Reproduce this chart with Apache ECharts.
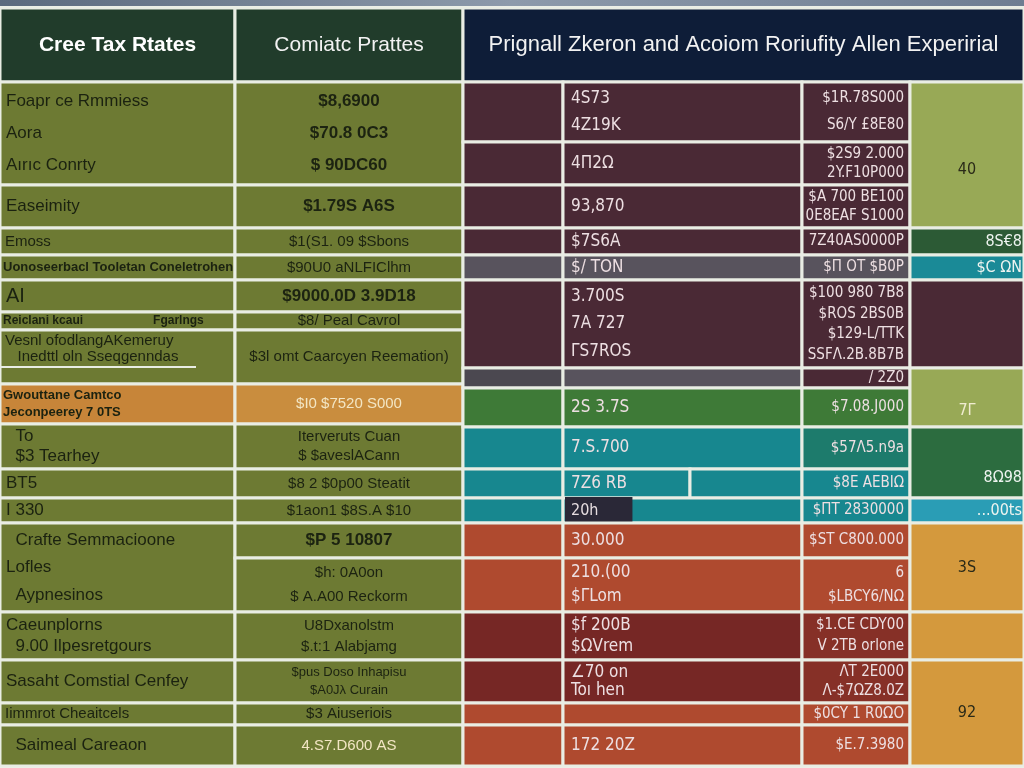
<!DOCTYPE html>
<html><head><meta charset="utf-8">
<script src="https://cdn.jsdelivr.net/npm/echarts@6/dist/echarts.min.js"></script>
<style>html,body{margin:0;padding:0;background:#fff}#c{width:1024px;height:768px}</style>
</head><body><div id="c"></div>
<script>
// ---------- DATA (texts) ----------
const headers = ['Cree Tax Rtates', 'Comiatc Prattes', 'Prignall Zkeron and Acoiom Roriufity Allen Experirial'];

const labelsA = [
  ['Foapr ce Rmmiess', 'Aora', 'Aırıc Conrty'],
  ['Easeimity'],
  ['Emoss'],
  ['Uonoseerbacl Tooletan Coneletrohen'],
  ['AI'],
  ['Reiclani kcaui                     Fgarlngs'],
  ['Vesnl ofodlangAKemeruy', '   Inedttl oln Sseqgenndas', ''],
  ['Gwouttane Camtco', 'Jeconpeerey 7 0TS'],
  ['  To', '  $3 Tearhey'],
  ['BT5'],
  ['I 330'],
  ['  Crafte Semmacioone', 'Lofles', '  Aypnesinos'],
  ['Caeunplorns', '  9.00 Ilpesretgours'],
  ['Sasaht Comstial Cenfey'],
  ['Iimmrot Cheaitcels'],
  ['  Saimeal Careaon']
];

const valuesB = [
  ['$8,6900', '$70.8 0C3', '$ 90DC60'],
  ['$1.79S A6S'],
  ['$1(S1. 09 $Sbons'],
  ['$90U0 aNLFIClhm'],
  ['$9000.0D 3.9D18'],
  ['$8/ Peal Cavrol'],
  ['$3l omt Caarcyen Reemation)'],
  ['$I0 $7520 S000'],
  ['Iterveruts Cuan', '$ $aveslACann'],
  ['$8 2 $0p00 Steatit'],
  ['$1aon1 $8S.A $10'],
  ['$P 5 10807'],
  ['$h: 0A0on', '$ A.A00 Reckorm'],
  ['U8Dxanolstm', '$.t:1 Alabjamg'],
  ['$pus Doso Inhapisu', '$A0Jλ Curain'],
  ['$3 Aiuseriois'],
  ['4.S7.D600 AS']
];

const valuesC = [
  ['4S73', '4Z19K'], ['4Π2Ω'], ['93,870'], ['$7S6A'], ['$/ TON'],
  ['3.700S', '7A 727', 'ΓS7ROS'], [], ['2S 3.7S'], ['7.S.700'], ['7Z6 RB'],
  ['20h'], ['30.000'], ['210.(00', '$ΓLom'], ['$f 200B', '$ΩVrem'],
  ['∠70 on', 'Toı hen'], [], ['172 20Z']
];

const valuesD = [
  ['$1R.78S000', 'S6/Y £8E80'], ['$2S9 2.000', '2Y.F10P000'], ['$A 700 BE100', '0E8EAF S1000'],
  ['7Z40AS0000P'], ['$Π OT $B0P'], ['$100 980 7B8', '$ROS 2BS0B', '$129-L/TTK', 'SSFΛ.2B.8B7B'],
  ['/ 2Z0'], ['$7.08.J000'], ['$57Λ5.n9a'], ['$8E AEBIΩ'], ['$ΠT 2830000'],
  ['$ST C800.000'], ['6', '$LBCY6/ΝΩ'], ['$1.CE CDY00', 'V 2TB orlone'],
  ['ΛT 2E000', 'Λ-$7ΩZ8.0Z'], ['$0CY 1 R0ΩO'], ['$E.7.3980']
];

const valuesE = [['', '40'], ['8S€8'], ['$C ΩN'], [], ['', '7Γ'], ['', '8Ω98'], ['...00ts'], ['3S'], [], ['92']];

// ---------- LAYOUT (table scale) ----------
const colEdges = [0, 235, 463, 563, 690, 802, 910, 1024];
const rowEdges = [8, 82, 142, 185, 228, 255, 280, 312, 330, 368, 384, 388, 424, 427, 469, 498, 523, 558, 612, 660, 703, 725, 766];

const rowsA = [[1,3],[3,4],[4,5],[5,6],[6,7],[7,8],[8,10],[10,12],[12,14],[14,15],[15,16],[16,18],[18,19],[19,20],[20,21],[21,22]];
const fillA = ['olive','olive','olive','olive','olive','olive','olive','orangeA','olive','olive','olive','olive','olive','olive','olive','olive'];
const styleA = ['lbl','lbl','lblM','lblS','lblL','lblXS','lblM','lblS','lbl','lbl','lbl','lbl','lbl','lbl','lblM','lbl'];

const rowsB = [[1,3],[3,4],[4,5],[5,6],[6,7],[7,8],[8,10],[10,12],[12,14],[14,15],[15,16],[16,17],[17,18],[18,19],[19,20],[20,21],[21,22]];
const fillB = ['olive','olive','olive','olive','olive','olive','olive','orangeB','olive','olive','olive','olive','olive','olive','olive','olive','olive'];
const styleB = ['val','val','valS','valS','val','valS','valS','valLt','valS','valS','valS','val','valS','valS','valXS','valS','valLt'];

const rowsR = [[1,2],[2,3],[3,4],[4,5],[5,6],[6,9],[9,11],[11,13],[13,14],[14,15],[15,16],[16,17],[17,18],[18,19],[19,20],[20,21],[21,22]];
const fillR0 = ['maroon','maroon','maroon','maroon','gray','maroon','gray2','green','teal','teal','teal','redor','redor','dkred','dkred','redor','redor'];
const fillRC = ['maroon','maroon','maroon','maroon','gray','maroon','gray','green','teal','teal','teal','redor','redor','dkred','dkred','redor','redor'];
const fillRD = ['maroon','maroon','maroon','maroon','gray','maroon','maroon','green','tealG','teal','teal','redor','redor','dkred2','dkred2','redor','redor'];

const rowsE = [[1,4],[4,5],[5,6],[6,9],[9,13],[13,15],[15,16],[16,18],[18,19],[19,22]];
const fillE = ['oliveL','dkgreen','tealE','maroon','oliveL','dkgreen2','tealL','orangeE','orangeE','orangeE'];
const styleE = ['reD','reRt','reRt','reD','reLt','reRt','reRt','reD','reD','reD'];

const fills = {
  hdrG:'#213c2b', hdrN:'#0e1d38', olive:'#6d7a33', orangeA:'#c78539', orangeB:'#c98d3e',
  maroon:'#4a2935', gray:'#58535d', gray2:'#4b4850', green:'#3e7a37', teal:'#17878f', tealG:'#1d7b6c',
  redor:'#af4a2f', dkred:'#762725', dkred2:'#863027', oliveL:'#98a956', dkgreen:'#2c5a35',
  dkgreen2:'#2c6c3f', tealE:'#1a8a97', tealL:'#2a9db5', orangeE:'#d4993d'
};
const LEFT = 'Liberation Sans, Arial, sans-serif';
const NARROW = 'DejaVu Sans Condensed, DejaVu Sans, sans-serif';
const textStyles = {
  hdrB:{size:21, weight:'bold', color:'#ffffff', align:'center', family:LEFT},
  hdr:{size:21, weight:'normal', color:'#f2f2f2', align:'center', family:LEFT},
  hdr3:{size:22, weight:'normal', color:'#f2f2f2', align:'center', family:LEFT},
  lbl:{size:17, weight:'normal', color:'#1b2210', align:'left', pad:6, family:LEFT},
  lblL:{size:20, weight:'normal', color:'#1b2210', align:'left', pad:6, family:LEFT},
  lblM:{size:15, weight:'normal', color:'#1b2210', align:'left', pad:5, family:LEFT},
  lblS:{size:13, weight:'bold', color:'#1b2210', align:'left', pad:3, family:LEFT},
  lblXS:{size:12, weight:'bold', color:'#1b2210', align:'left', pad:3, family:LEFT},
  val:{size:17, weight:'bold', color:'#1c2311', align:'center', family:LEFT},
  valS:{size:15, weight:'normal', color:'#1c2311', align:'center', family:LEFT},
  valXS:{size:13, weight:'normal', color:'#1c2311', align:'center', family:LEFT},
  valLt:{size:15, weight:'normal', color:'#f3e6c4', align:'center', family:LEFT},
  rc:{size:17, weight:'normal', color:'#eddfe2', align:'left', pad:8, family:NARROW},
  rcBadge:{size:16, weight:'normal', color:'#e6dde0', align:'left', pad:2, family:NARROW, bg:'#2a2837', padding:[4,34,4,6]},
  rd:{size:15, weight:'normal', color:'#eddfe2', align:'right', pad:6, family:NARROW},
  reD:{size:16, weight:'normal', color:'#2a2a18', align:'center', family:NARROW},
  reLt:{size:16, weight:'normal', color:'#f0ecd0', align:'center', family:NARROW},
  reRt:{size:16, weight:'normal', color:'#eef4f0', align:'right', pad:2, family:NARROW}
};

// ---------- build cells ----------
const cells = [];
function add(c0, c1, r0, r1, fill, text, style) { cells.push({c0, c1, r0, r1, fill, text: text || [], style}); }
add(0,1,0,1,'hdrG',[headers[0]],'hdrB');
add(1,2,0,1,'hdrG',[headers[1]],'hdr');
add(2,7,0,1,'hdrN',[headers[2]],'hdr3');
rowsA.forEach((r,i)=>add(0,1,r[0],r[1],fillA[i],labelsA[i],styleA[i]));
rowsB.forEach((r,i)=>add(1,2,r[0],r[1],fillB[i],valuesB[i],styleB[i]));
rowsR.forEach((r,i)=>{
  add(2,3,r[0],r[1],fillR0[i],[],'rc');
  if (i === 9) { add(3,4,r[0],r[1],fillRC[i],valuesC[i],'rc'); add(4,5,r[0],r[1],fillRC[i],[],'rc'); }
  else add(3,5,r[0],r[1],fillRC[i],valuesC[i], i === 10 ? 'rcBadge' : 'rc');
  add(5,6,r[0],r[1],fillRD[i],valuesD[i],'rd');
});
rowsE.forEach((r,i)=>add(6,7,r[0],r[1],fillE[i],valuesE[i],styleE[i]));

function renderItem(params, api) {
  const cell = cells[api.value(4)];
  const p0 = api.coord([api.value(0), api.value(1)]);
  const p1 = api.coord([api.value(2), api.value(3)]);
  const x = p0[0], y = p0[1], w = p1[0] - p0[0], h = p1[1] - p0[1];
  const children = [{type:'rect', shape:{x, y, width:w, height:h},
    style:{fill: fills[cell.fill], stroke:'#e9ede4', lineWidth:3}}];
  if (cell.text.length) {
    const st = textStyles[cell.style];
    const n = cell.text.length;
    const lh = Math.min(st.size * 1.9, (h - 6) / n);
    const tx = st.align === 'left' ? x + st.pad : st.align === 'right' ? x + w - st.pad : x + w / 2;
    const s = {text: cell.text.join('\n'), x: tx, y: y + h / 2, align: st.align, verticalAlign: 'middle',
      fill: st.color, fontSize: st.size, fontFamily: st.family, fontWeight: st.weight, lineHeight: lh};
    if (st.bg) { s.backgroundColor = st.bg; s.padding = st.padding; }
    children.push({type:'text', style: s});
  }
  return {type:'group', children};
}

const chart = echarts.init(document.getElementById('c'), null, {renderer:'canvas'});
chart.setOption({
  animation: false,
  backgroundColor: '#eef0ea',
  grid: {left:0, right:0, top:0, bottom:0},
  xAxis: {type:'value', min:0, max:1024, show:false},
  yAxis: {type:'value', min:0, max:768, inverse:true, show:false},
  graphic: [
    {type:'rect', left:0, top:0, shape:{width:1024, height:6}, z:100,
     style:{fill: new echarts.graphic.LinearGradient(0,0,1,0,[{offset:0,color:'#5b6a7e'},{offset:0.5,color:'#8d9aab'},{offset:1,color:'#6e7d92'}])}},
    {type:'rect', left:0, top:366, shape:{width:196, height:2}, z:100, style:{fill:'#e9ede4'}}
  ],
  series: [{
    type:'custom', coordinateSystem:'cartesian2d', renderItem,
    encode:{x:[0,2], y:[1,3]},
    data: cells.map((c,i)=>[colEdges[c.c0], rowEdges[c.r0], colEdges[c.c1], rowEdges[c.r1], i])
  }]
});
</script></body></html>
